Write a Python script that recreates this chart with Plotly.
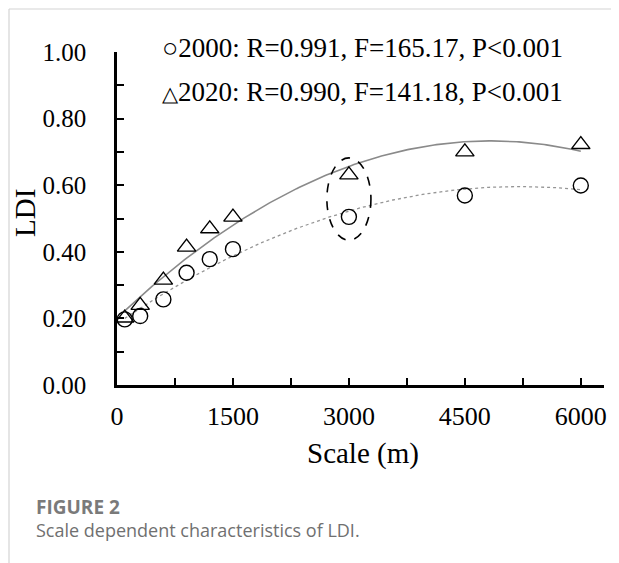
import numpy as np
import plotly.graph_objects as go

# ---- data ----
scale_m = [100, 300, 600, 900, 1200, 1500, 3000, 4500, 6000]
ldi_2000 = [0.197, 0.207, 0.257, 0.337, 0.378, 0.408, 0.505, 0.569, 0.599]
ldi_2020 = [0.201, 0.239, 0.315, 0.414, 0.469, 0.504, 0.631, 0.700, 0.722]
legend_2000 = "2000: R=0.991, F=165.17, P&lt;0.001"
legend_2020 = "2020: R=0.990, F=141.18, P&lt;0.001"
x_ticks = [0, 1500, 3000, 4500, 6000]
y_ticks = [0.0, 0.2, 0.4, 0.6, 0.8, 1.0]
highlight_scale = 3000

# ---- layout geometry (page pixels; the html body adds an 8px margin) ----
OFF = 8
W, H = 619 - OFF, 563 - OFF
ML, MT = 117 - OFF, 52 - OFF
MR = W - (604 - OFF)
MB = H - (385 - OFF)
PW, PH = W - ML - MR, H - MT - MB

def px(p):
    return (p - OFF - ML) / PW

def py(p):
    return (H - MB - (p - OFF)) / PH

SERIF = "Liberation Serif, Times New Roman, serif"
SANS = "Open Sans, Noto Sans, sans-serif"

# quadratic trend lines (as in the original spreadsheet trendlines)
xs = np.linspace(min(scale_m), max(scale_m), 200)
fit2000 = np.polyval(np.polyfit(scale_m, ldi_2000, 2), xs)
fit2020 = np.polyval(np.polyfit(scale_m, ldi_2020, 2), xs)

fig = go.Figure()
fig.add_trace(go.Scatter(x=xs, y=fit2020, mode="lines",
                         line=dict(color="#8a8a8a", width=1.6), showlegend=False,
                         hoverinfo="skip"))
fig.add_trace(go.Scatter(x=xs, y=fit2000, mode="lines",
                         line=dict(color="#959595", width=1.3, dash="dot"), showlegend=False,
                         hoverinfo="skip"))
fig.add_trace(go.Scatter(x=scale_m, y=ldi_2000, mode="markers", name="2000",
                         marker=dict(symbol="circle-open", size=15,
                                     color="black", line=dict(width=1.4, color="black")),
                         showlegend=False, cliponaxis=False))
fig.add_trace(go.Scatter(x=scale_m, y=ldi_2020, mode="markers", name="2020",
                         marker=dict(symbol="triangle-up-open", size=16,
                                     color="black", line=dict(width=1.4, color="black")),
                         showlegend=False, cliponaxis=False))

# dashed ellipse around the 3000 m pair
i3 = scale_m.index(highlight_scale)
fig.add_shape(type="circle", xref="x", yref="y",
              x0=highlight_scale - 285, x1=highlight_scale + 285,
              y0=ldi_2000[i3] - 0.07, y1=ldi_2020[i3] + 0.051,
              line=dict(color="black", width=1.6, dash="dash"))

# page frame lines (left + top)
fig.add_shape(type="line", xref="paper", yref="paper",
              x0=px(9), x1=px(9), y0=py(9), y1=py(563),
              line=dict(color="#d4d4d4", width=1.2))
fig.add_shape(type="line", xref="paper", yref="paper",
              x0=px(9), x1=px(619), y0=py(9), y1=py(9),
              line=dict(color="#d4d4d4", width=1.2))

ann = []
ann.append(dict(x=px(160), y=py(48), xref="paper", yref="paper", xanchor="left", yanchor="middle",
                text="○" + legend_2000, showarrow=False,
                font=dict(family=SERIF, size=27, color="black")))
ann.append(dict(x=px(160), y=py(92), xref="paper", yref="paper", xanchor="left", yanchor="middle",
                text="<span style='font-size:21px'>△</span>" + legend_2020, showarrow=False,
                font=dict(family=SERIF, size=27, color="black")))
# axis titles
ann.append(dict(x=px(25), y=py(213), xref="paper", yref="paper", xanchor="center", yanchor="middle",
                text="LDI", textangle=-90, showarrow=False, borderpad=0,
                font=dict(family=SERIF, size=29, color="black")))
ann.append(dict(x=px(363), y=py(453), xref="paper", yref="paper", xanchor="center", yanchor="middle",
                text="Scale (m)", showarrow=False,
                font=dict(family=SERIF, size=29, color="black")))
# caption
ann.append(dict(x=px(34), y=py(507), xref="paper", yref="paper", xanchor="left", yanchor="middle",
                text="<b>FIGURE 2</b>", showarrow=False,
                font=dict(family=SANS, size=19, color="#7a7a7a")))
ann.append(dict(x=px(34), y=py(530), xref="paper", yref="paper", xanchor="left", yanchor="middle",
                text="Scale dependent characteristics of LDI.", showarrow=False,
                font=dict(family=SANS, size=18, color="#707070")))

fig.update_layout(
    width=W, height=H,
    margin=dict(l=ML, r=MR, t=MT, b=MB, pad=0),
    paper_bgcolor="white", plot_bgcolor="white",
    annotations=ann,
    xaxis=dict(range=[0, 6300], tickvals=x_ticks, ticktext=[str(v) for v in x_ticks],
               showline=True, linecolor="black", linewidth=2.6, mirror=False,
               ticks="inside", ticklen=7, tickwidth=2, tickcolor="black",
               minor=dict(dtick=750, tick0=0, ticks="inside", ticklen=7, tickwidth=2, tickcolor="black"),
               showgrid=False, zeroline=False, ticklabelstandoff=6,
               tickfont=dict(family=SERIF, size=26, color="black")),
    yaxis=dict(range=[0, 1.0], tickvals=y_ticks, ticktext=[f"{v:.2f}" for v in y_ticks],
               showline=True, linecolor="black", linewidth=2.6, mirror=False,
               ticks="inside", ticklen=7, tickwidth=2, tickcolor="black",
               minor=dict(dtick=0.1, tick0=0, ticks="inside", ticklen=7, tickwidth=2, tickcolor="black"),
               showgrid=False, zeroline=False, ticklabelstandoff=23,
               tickfont=dict(family=SERIF, size=25, color="black")),
)

fig.write_html("out.html")
